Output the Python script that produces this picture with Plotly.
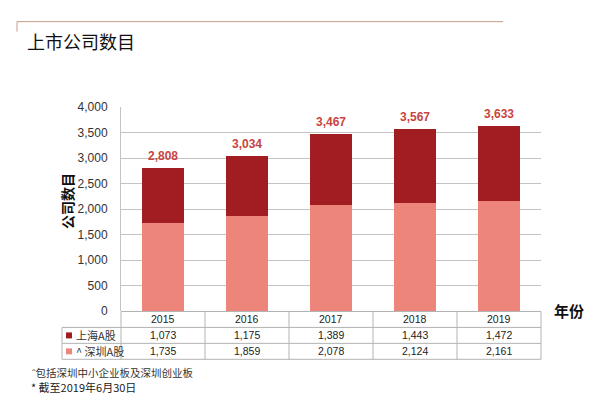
import plotly.graph_objects as go

years = ["2015", "2016", "2017", "2018", "2019"]
shanghai = [1073, 1175, 1389, 1443, 1472]
shenzhen = [1735, 1859, 2078, 2124, 2161]
series_names = ["上海A股", "^ 深圳A股"]
y_ticks = [0, 500, 1000, 1500, 2000, 2500, 3000, 3500, 4000]

DARK = "#a11d21"
LIGHT = "#ee857b"
LABEL = "#c8453e"
GRID = "#c4c4c4"
FONT = "Liberation Sans, Arial, Noto Sans CJK SC"
CJK = "Noto Sans CJK SC"

OFF = 8  # page body margin
W, H = 600 - OFF, 398 - OFF
L, R = 121, 541
T, B = 106.7, 311.5


def px(x):
    return (x - L) / (R - L)


def py(y):
    return (B - y) / (B - T)


fig = go.Figure()
fig.add_bar(x=years, y=shenzhen, marker_color=LIGHT, marker_line_width=0, name=series_names[1])
fig.add_bar(x=years, y=shanghai, marker_color=DARK, marker_line_width=0, name=series_names[0])

totals = [a + b for a, b in zip(shanghai, shenzhen)]
for i, t in enumerate(totals):
    fig.add_annotation(x=i, y=t, xref="x", yref="y", text=f"{t:,}", showarrow=False,
                       yanchor="bottom", yshift=3,
                       font=dict(family=FONT, size=12, color=LABEL, weight="bold"))

shapes = []
line = dict(color="#b3b3b3", width=1)
for yy, x0 in [(312, L), (328, 62), (344, 62), (360, 62)]:
    shapes.append(dict(type="line", xref="paper", yref="paper", x0=px(x0), x1=px(R),
                       y0=py(yy), y1=py(yy), line=line))
n = len(years)
for i in range(n + 1):
    xx = L + i * (R - L) / n
    shapes.append(dict(type="line", xref="paper", yref="paper", x0=px(xx), x1=px(xx),
                       y0=py(312), y1=py(360), line=line))
shapes.append(dict(type="line", xref="paper", yref="paper", x0=px(62), x1=px(62),
                   y0=py(328), y1=py(360), line=line))
for yy, c in [(336, DARK), (352, LIGHT)]:
    shapes.append(dict(type="rect", xref="paper", yref="paper", x0=px(66), x1=px(72),
                       y0=py(yy - 3), y1=py(yy + 3), fillcolor=c, line_width=0))
shapes.append(dict(type="line", xref="paper", yref="paper", x0=px(17), x1=px(503),
                   y0=py(21), y1=py(21), line=dict(color="#c99c8e", width=1)))
shapes.append(dict(type="line", xref="paper", yref="paper", x0=px(17), x1=px(17),
                   y0=py(21), y1=py(31), line=dict(color="#c99c8e", width=1)))

ann = []
for i, yr in enumerate(years):
    cx = L + (i + 0.5) * (R - L) / n
    ann.append(dict(x=px(cx), y=py(320), text=yr))
    ann.append(dict(x=px(cx), y=py(336), text=f"{shanghai[i]:,}"))
    ann.append(dict(x=px(cx), y=py(352), text=f"{shenzhen[i]:,}"))
for a in ann:
    fig.add_annotation(xref="paper", yref="paper", showarrow=False, xanchor="center", yanchor="middle",
                       font=dict(family=FONT, size=10.5, color="#222"), **a)

fig.add_annotation(xref="paper", yref="paper", x=px(74), y=py(336), text=series_names[0], showarrow=False,
                   xanchor="left", yanchor="middle", font=dict(family=CJK, size=11, color="#333"))
fig.add_annotation(xref="paper", yref="paper", x=px(74), y=py(352), text=series_names[1], showarrow=False,
                   xanchor="left", yanchor="middle", font=dict(family=CJK, size=11, color="#333"))

fig.add_annotation(xref="paper", yref="paper", x=px(67), y=py(201), text="公司数目", textangle=-90,
                   showarrow=False, xanchor="center", yanchor="middle",
                   font=dict(family=CJK, size=14, color="#111", weight="bold"))
fig.add_annotation(xref="paper", yref="paper", x=px(552), y=py(311), text="年份", showarrow=False,
                   xanchor="left", yanchor="middle",
                   font=dict(family=CJK, size=15, color="#111", weight="bold"))
fig.add_annotation(xref="paper", yref="paper", x=px(25), y=py(40), text="上市公司数目", showarrow=False,
                   xanchor="left", yanchor="middle", font=dict(family=CJK, size=18, color="#111"))
fig.add_annotation(xref="paper", yref="paper", x=px(30), y=py(373), text="ˆ包括深圳中小企业板及深圳创业板",
                   showarrow=False, xanchor="left", yanchor="middle",
                   font=dict(family=CJK, size=10.5, color="#333"))
fig.add_annotation(xref="paper", yref="paper", x=px(29), y=py(388), text="* 截至2019年6月30日",
                   showarrow=False, xanchor="left", yanchor="middle",
                   font=dict(family=CJK, size=11, color="#222"))

fig.update_layout(
    width=W, height=H, barmode="stack", bargap=0.49, showlegend=False,
    margin=dict(l=L - OFF, r=600 - R, t=T - OFF, b=398 - B, pad=0),
    plot_bgcolor="white", paper_bgcolor="white", shapes=shapes,
    xaxis=dict(type="category", showticklabels=False, showgrid=False, showline=False, zeroline=False,
               range=[-0.5, n - 0.5]),
    yaxis=dict(range=[0, 4000], tickvals=y_ticks, tickformat=",", showgrid=True, gridcolor=GRID,
               showline=True, linecolor=GRID, zeroline=False, ticks="", ticklabelstandoff=10,
               tickfont=dict(family=FONT, size=12, color="#333")),
)
fig.write_html("out.html")
